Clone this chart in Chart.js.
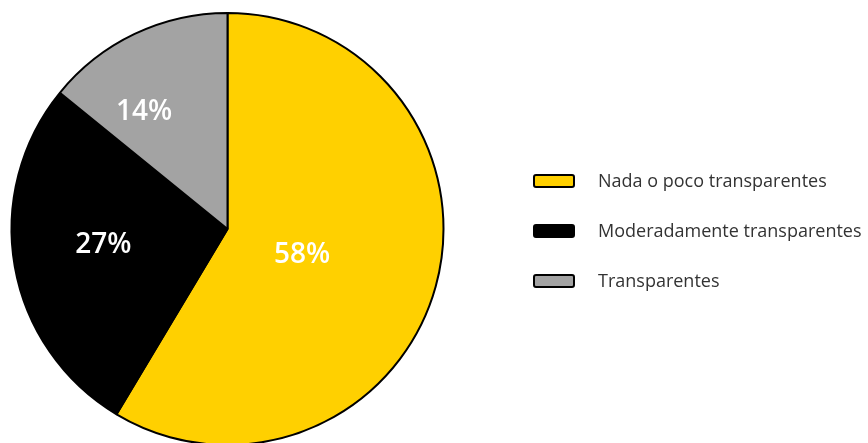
<!DOCTYPE html>
<html>
<head>
<meta charset="utf-8">
<script src="https://cdn.jsdelivr.net/npm/chart.js@4"></script>
<style>
  html, body { margin: 0; padding: 0; background: #fff; }
  #wrap { width: 868px; height: 443px; position: relative; }
</style>
</head>
<body>
<div id="wrap"><canvas id="chart"></canvas></div>
<script>
// data
const categories = ['Nada o poco transparentes', 'Moderadamente transparentes', 'Transparentes'];
const values = [58, 27, 14];
const sliceColors = ['#FFD000', '#000000', '#A3A3A3'];
// where each % label sits: fraction of radius and a nudge off the mid angle (degrees)
const labelFrac = [0.366, 0.58, 0.665];
const labelNudge = [3.7, 2.7, -10];

const FONT = '"Open Sans", "DejaVu Sans", sans-serif';

// labels + legend drawn by hand so they land where the reference puts them
const overlay = {
  id: 'overlay',
  afterDatasetsDraw(chart) {
    const ctx = chart.ctx;
    const arcs = chart.getDatasetMeta(0).data;
    ctx.save();
    ctx.fillStyle = '#fff';
    ctx.font = '600 28px ' + FONT;
    ctx.textAlign = 'center';
    ctx.textBaseline = 'middle';
    arcs.forEach((a, i) => {
      const mid = (a.startAngle + a.endAngle) / 2 + labelNudge[i] * Math.PI / 180;
      const r = a.outerRadius * labelFrac[i];
      ctx.fillText(values[i] + '%', a.x + Math.cos(mid) * r, a.y + Math.sin(mid) * r);
    });

    // legend
    ctx.textAlign = 'left';
    ctx.font = '18px ' + FONT;
    categories.forEach((c, i) => {
      const y = 181 + i * 50;
      ctx.fillStyle = sliceColors[i];
      ctx.strokeStyle = '#000';
      ctx.lineWidth = 2;
      ctx.beginPath();
      ctx.roundRect(534, y - 6, 40, 12, 2);
      ctx.fill();
      ctx.stroke();
      ctx.fillStyle = '#333';
      ctx.fillText(c, 598, y + 1);
    });
    ctx.restore();
  }
};

new Chart(document.getElementById('chart'), {
  type: 'pie',
  data: {
    labels: categories,
    datasets: [{
      data: values,
      backgroundColor: sliceColors,
      borderColor: '#000',
      borderWidth: 2,
      radius: 216
    }]
  },
  options: {
    responsive: true,
    maintainAspectRatio: false,
    animation: false,
    layout: { padding: { left: 0, right: 413, top: 15, bottom: 0 } },
    plugins: { legend: { display: false }, tooltip: { enabled: false } }
  },
  plugins: [overlay]
});
</script>
</body>
</html>
